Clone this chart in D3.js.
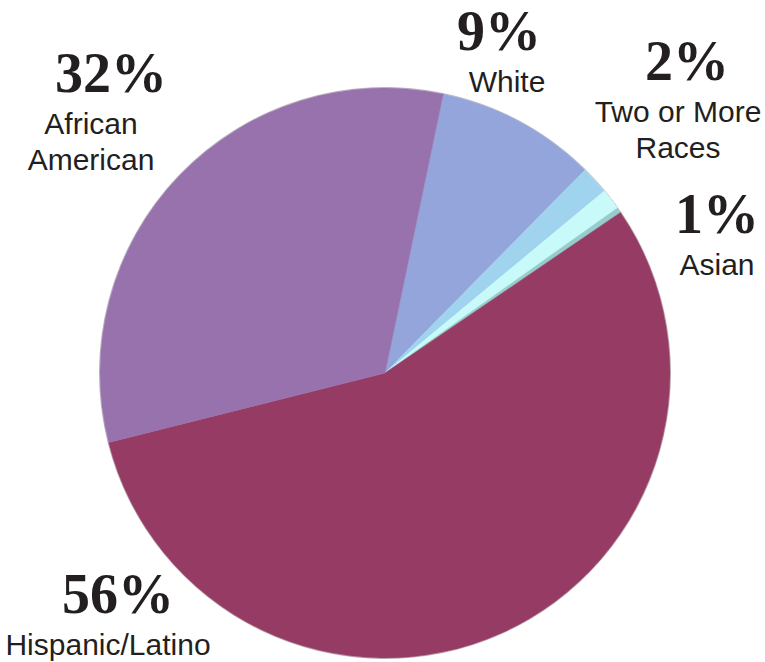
<!DOCTYPE html>
<html>
<head>
<meta charset="utf-8">
<script src="https://cdn.jsdelivr.net/npm/d3@7"></script>
<style>
    body { margin: 0; background: #fff; }
    .pct { font-family: "Liberation Serif", "DejaVu Serif", serif; font-weight: 700; fill: #231f20; }
    .label { font-family: "Liberation Sans", Arial, sans-serif; fill: #231f20; }
</style>
</head>
<body>
<div id="container"></div>
<script>
// slices, clockwise from the White wedge
const categories = ['White', 'Two or More Races', 'Asian', 'Other', 'Hispanic/Latino', 'African American'];
const values = [9.1, 1.6, 1.2, 0.3, 55.6, 32.2];
const pctLabels = ['9%', '2%', '1%', '', '56%', '32%'];
const nameLines = [['White'], ['Two or More', 'Races'], ['Asian'], [], ['Hispanic/Latino'], ['African', 'American']];
const colors = ['#93a5da', '#a0d4ee', '#c8fafa', '#96cccc', '#963c64', '#9872ac'];

const width = 765;
const height = 662;
const cx = 385;
const cy = 373;
const radius = 285;

// label anchor offsets from the pie centre (layout only); tx shifts the name text
const labelOffsets = [
    { dx: 114, dy: -323, tx: 8 },
    { dx: 302, dy: -293, tx: -9 },
    { dx: 332, dy: -140, tx: 0 },
    null,
    { dx: -267, dy: 240, tx: -10 },
    { dx: -274, dy: -281, tx: -20 }
];

const svg = d3.select('#container').append('svg')
    .attr('width', width)
    .attr('height', height);

const chart = svg.append('g')
    .attr('transform', `translate(${cx}, ${cy})`);

const color = d3.scaleOrdinal()
    .domain(categories)
    .range(colors);

const startDeg = 11.8;
const pie = d3.pie()
    .sort(null)
    .value((d) => d.value)
    .startAngle(startDeg * Math.PI / 180)
    .endAngle((startDeg + 360) * Math.PI / 180);

const arc = d3.arc()
    .innerRadius(0)
    .outerRadius(radius);

const data = categories.map((c, i) => ({ name: c, value: values[i], pct: pctLabels[i], lines: nameLines[i], off: labelOffsets[i] }));

chart.append('circle')
    .attr('r', radius + 0.5)
    .attr('fill', 'none')
    .attr('stroke', '#9a9a9a')
    .attr('stroke-width', 1)
    .attr('opacity', 0.6);

chart.selectAll('path.slice')
    .data(pie(data))
    .enter()
    .append('path')
    .attr('class', 'slice')
    .attr('d', arc)
    .attr('fill', (d) => color(d.data.name))
    .attr('stroke', (d) => color(d.data.name))
    .attr('stroke-width', 0.5);

const labels = chart.selectAll('g.lbl')
    .data(data.filter((d) => d.off))
    .enter()
    .append('g')
    .attr('class', 'lbl')
    .attr('transform', (d) => `translate(${d.off.dx}, ${d.off.dy})`);

labels.append('text')
    .attr('class', 'pct')
    .attr('text-anchor', 'middle')
    .attr('font-size', 56)
    .text((d) => d.pct);

labels.each(function (d) {
    const g = d3.select(this);
    d.lines.forEach((line, i) => {
        g.append('text')
            .attr('class', 'label')
            .attr('text-anchor', 'middle')
            .attr('font-size', 30)
            .attr('x', d.off.tx)
            .attr('y', 42 + i * 36)
            .text(line);
    });
});
</script>
</body>
</html>
